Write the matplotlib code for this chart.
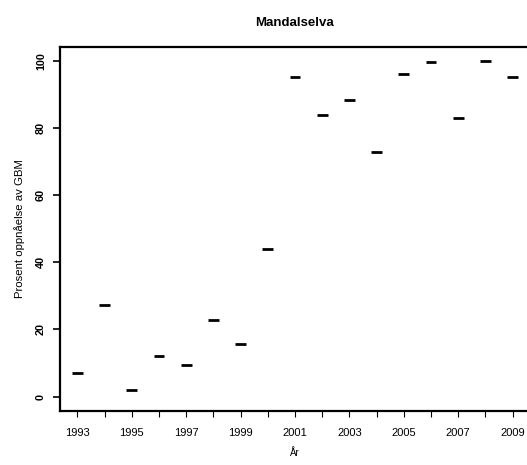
import numpy as np
import matplotlib
matplotlib.use('Agg')
import matplotlib.pyplot as plt

# Values
years = [1993, 1994, 1995, 1996, 1997, 1998, 1999, 2000, 2001,
         2002, 2003, 2004, 2005, 2006, 2007, 2008, 2009]
percent = [7.0, 27.4, 2.0, 12.0, 9.3, 22.9, 15.8, 44.0, 95.2,
           83.9, 88.4, 72.7, 96.1, 99.6, 82.9, 99.8, 95.2]
ytick_values = [0, 20, 40, 60, 80, 100]
xtick_labels = [str(y) if y % 2 == 1 else '' for y in years]

plt.rcParams['font.family'] = ['Liberation Sans', 'DejaVu Sans']

fig = plt.figure(figsize=(5.27, 4.65), dpi=100)
W, H = 527, 465
ax = fig.add_axes([60 / W, 1 - 410.7 / H, (530 - 60) / W, (410.7 - 46.7) / H])

x = np.array(years, dtype=float)
ax.hlines(percent, x - 0.2, x + 0.2, colors='black', linewidth=2.0)

ax.set_xlim(1992.36, 2009.64)
ax.set_ylim(-4.17, 104.17)

ax.set_xticks(years)
ax.set_xticklabels(xtick_labels, fontsize=8)
ax.set_yticks(ytick_values)
ax.set_yticklabels([str(v) for v in ytick_values], fontsize=7.8, rotation=90,
                   va='center', fontweight='bold')
ax.tick_params(axis='x', direction='out', length=4.5, width=0.8, pad=8)
ax.tick_params(axis='y', direction='out', length=5, width=1.2, pad=5)

for side in ['left', 'top', 'bottom']:
    ax.spines[side].set_linewidth(1.6)
ax.spines['right'].set_visible(False)

ax.set_title('Mandalselva', fontsize=9.5, fontweight='bold', pad=15)
ax.set_xlabel('År', fontsize=7, labelpad=7)
ax.set_ylabel('Prosent oppnåelse av GBM', fontsize=8.2, labelpad=8)

fig.savefig('out.png', dpi=100)
